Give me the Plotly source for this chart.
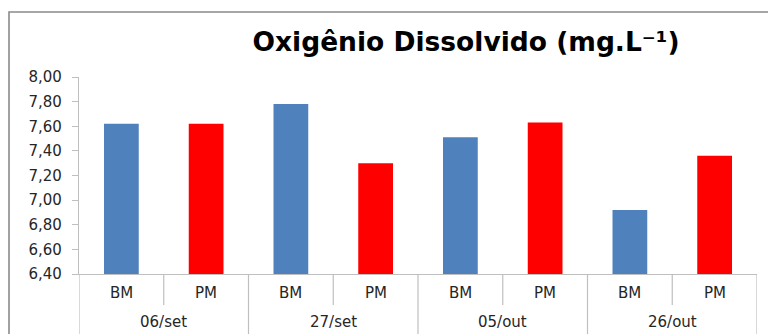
import plotly.graph_objects as go

# Dissolved oxygen by sampling date and site
dates = ["06/set", "27/set", "05/out", "26/out"]
sites = ["BM", "PM"]
bm_values = [7.62, 7.78, 7.51, 6.92]
pm_values = [7.62, 7.30, 7.63, 7.36]
y_ticks = [6.40, 6.60, 6.80, 7.00, 7.20, 7.40, 7.60, 7.80, 8.00]

site_colors = {"BM": "#4F81BD", "PM": "#FF0000"}
axis_gray = "#BFBFBF"
label_font = dict(family="DejaVu Sans", size=15, color="#262626")

# flatten into one slot per (date, site)
labels, values, colors, slots = [], [], [], []
for i, d in enumerate(dates):
    for j, (s, v) in enumerate(zip(sites, [bm_values[i], pm_values[i]])):
        slots.append(i * len(sites) + j)
        labels.append(s)
        values.append(v)
        colors.append(site_colors[s])

fig = go.Figure(
    go.Bar(x=slots, y=values, marker=dict(color=colors, line=dict(width=0)),
           width=0.41, showlegend=False, hoverinfo="x+y")
)

n = len(slots)
shapes = []
# separators: long ones between dates, short ones between sites
for k in range(n + 1):
    xb = k - 0.5
    major = k % len(sites) == 0
    shapes.append(dict(type="line", xref="x", yref="paper", x0=xb, x1=xb,
                       y0=0, y1=-0.34 if major else -0.157,
                       line=dict(color=axis_gray, width=1.2)))
# outer chart frame
shapes.append(dict(type="rect", xref="paper", yref="paper",
                   x0=(9 - 79) / 678, x1=(780 - 79) / 678,
                   y0=-0.5, y1=(274 - 12) / 197,
                   line=dict(color="#8A8A8A", width=1.6), fillcolor="rgba(0,0,0,0)"))

annotations = []
for xk, lab in zip(slots, labels):
    annotations.append(dict(x=xk, xref="x", y=-0.098, yref="paper", text=lab,
                            showarrow=False, yanchor="middle", font=label_font))
for i, d in enumerate(dates):
    annotations.append(dict(x=i * len(sites) + 0.5, xref="x", y=-0.245, yref="paper",
                            text=d, showarrow=False, yanchor="middle", font=label_font))

fig.update_layout(
    width=768, height=334,
    margin=dict(l=79, r=11, t=77, b=60),
    paper_bgcolor="white", plot_bgcolor="white",
    separators=",.",
    title=dict(text="<b>Oxigênio Dissolvido (mg.L⁻¹)</b>",
               x=466 / 768, xref="container", xanchor="center",
               y=1 - 42 / 334, yref="container", yanchor="middle",
               font=dict(family="DejaVu Sans", size=26.5, color="black")),
    xaxis=dict(range=[-0.5, n - 0.5], showticklabels=False, ticks="",
               showgrid=False, zeroline=False, showline=True,
               linecolor=axis_gray, linewidth=1.2),
    yaxis=dict(range=[6.40, 8.00], tickvals=y_ticks, tickformat=".2f",
               showgrid=False, zeroline=False, showline=True,
               linecolor=axis_gray, linewidth=1.2,
               ticks="outside", ticklen=6, tickcolor=axis_gray, tickwidth=1.2,
               ticklabelstandoff=7,
               tickfont=dict(family="DejaVu Sans", size=15, color="#262626")),
    shapes=shapes,
    annotations=annotations,
)

fig.write_html("out.html")
